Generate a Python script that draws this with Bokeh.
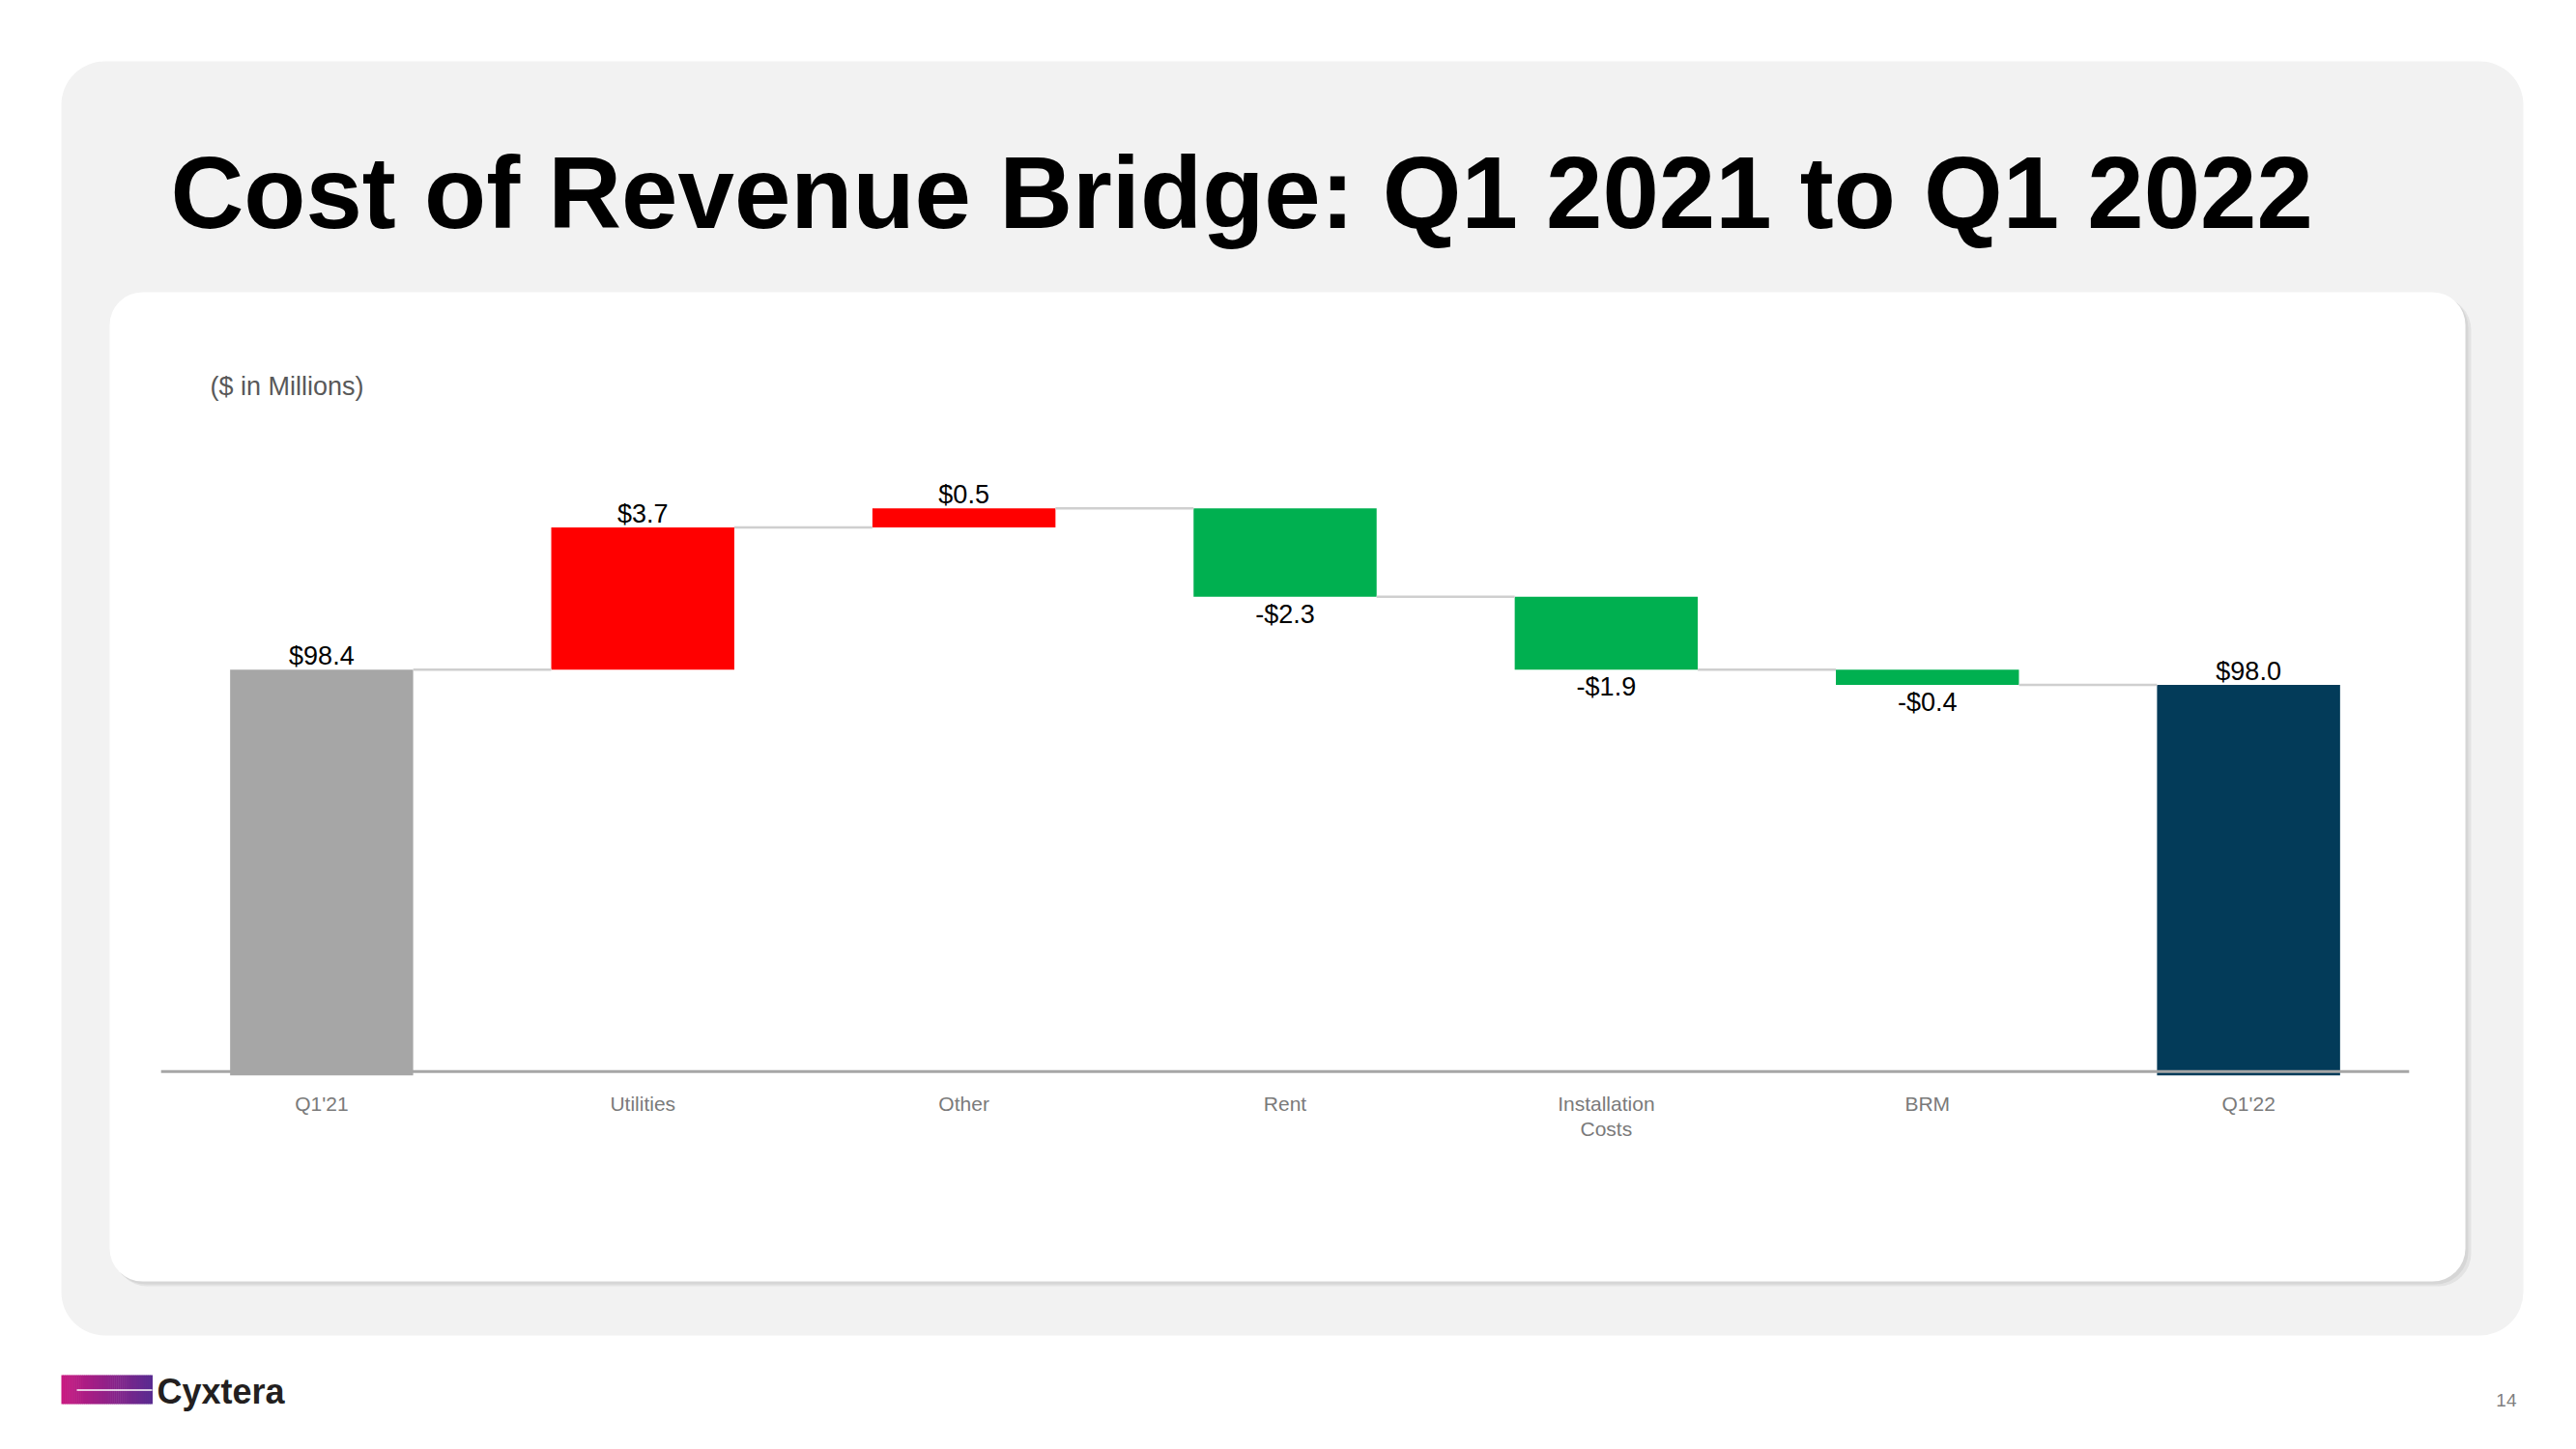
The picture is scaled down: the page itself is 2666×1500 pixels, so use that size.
from bokeh.plotting import figure
from bokeh.models import FactorRange, Range1d, ColumnDataSource
from bokeh.transform import dodge
from bokeh.core.properties import value
from bokeh.embed import file_html
from bokeh.resources import INLINE

# ---------------- data ----------------
categories = ["Q1'21", "Utilities", "Other", "Rent", "Installation Costs", "BRM", "Q1'22"]
start_total = 98.4
changes = [3.7, 0.5, -2.3, -1.9, -0.4]
end_total = 98.0

title_text = "Cost of Revenue Bridge: Q1 2021 to Q1 2022"
unit_note = "($ in Millions)"
brand_text = "Cyxtera"
page_number = "14"

# ---------------- layout / style ----------------
W, H = 2659, 1492
OFF = 0
PX_PER_UNIT = 39.75
Y_HI = 115.826
Y_LO = Y_HI - H / PX_PER_UNIT   # truncated value axis
AXIS_FLOOR = 87.83              # where total bars start
AXIS_LINE = 87.93               # x-axis line level
BAR_W = 0.57
PAD_UNITS = 0.5
FONT = value("Liberation Sans")

C_START = "#A6A6A6"
C_END = "#033B59"
C_UP = "#FF0000"
C_DOWN = "#00B050"

NCAT = len(categories)
SPAN = NCAT + 2 * PAD_UNITS


def gx(px):
    """page pixel x -> synthetic categorical coordinate (slide decoration only)"""
    return (px - OFF) / W * SPAN - PAD_UNITS


def gy(py):
    """page pixel y -> value coordinate (slide decoration only)"""
    return Y_HI - (py - OFF) / H * (Y_HI - Y_LO)


def fmt(v):
    return ("-" if v < 0 else "") + "$" + f"{abs(v):.1f}"


# ---------------- waterfall geometry from data ----------------
ABOVE, BELOW = -14, 18
bottoms, tops, colors, labels, label_y, label_off = [], [], [], [], [], []
bottoms.append(AXIS_FLOOR); tops.append(start_total); colors.append(C_START)
labels.append(fmt(start_total)); label_y.append(start_total); label_off.append(ABOVE)
levels = [start_total]
level = start_total
for c in changes:
    new = level + c
    bottoms.append(min(level, new)); tops.append(max(level, new))
    colors.append(C_UP if c > 0 else C_DOWN)
    labels.append(fmt(c))
    if c > 0:
        label_y.append(max(level, new)); label_off.append(ABOVE)
    else:
        label_y.append(min(level, new)); label_off.append(BELOW)
    level = new
    levels.append(level)
bottoms.append(AXIS_FLOOR); tops.append(end_total); colors.append(C_END)
labels.append(fmt(end_total)); label_y.append(end_total); label_off.append(ABOVE)

bars = ColumnDataSource(dict(cat=categories, bottom=bottoms, top=tops, color=colors,
                             label=labels, ly=label_y, loff=label_off))
conn = ColumnDataSource(dict(x0=categories[:-1], x1=categories[1:], y=levels))

# ---------------- figure ----------------
pad = 2 * PAD_UNITS / NCAT
p = figure(width=W, height=H,
           x_range=FactorRange(*categories, range_padding=pad, range_padding_units="percent"),
           y_range=Range1d(Y_LO, Y_HI),
           output_backend="svg", toolbar_location=None, title_location=None,
           x_axis_location=None, y_axis_location=None, min_border=0,
           background_fill_color="white", border_fill_color="white",
           outline_line_color=None)
p.grid.visible = False

# ---------------- slide decoration ----------------
def box(l, r, t, b, **kw):
    p.quad(left=[gx(l)], right=[gx(r)], top=[gy(t)], bottom=[gy(b)], line_color=None, **kw)

box(63, 2611, 63, 1382, border_radius=45, fill_color="#F2F2F2")
box(118, 2557, 307, 1331, border_radius=34, fill_color="#E3E3E3")
box(116, 2554, 305, 1329, border_radius=34, fill_color="#D6D6D6")
box(113, 2551, 302, 1326, border_radius=34, fill_color="#FFFFFF")

p.text(x=[gx(176)], y=[gy(199)], text=[title_text], text_font=FONT, text_font_style="bold",
       text_font_size="105px", text_color="#000000", text_baseline="alphabetic")
p.text(x=[gx(217)], y=[gy(399)], text=[unit_note], text_font=FONT, text_font_size="27px",
       text_color="#595959", text_baseline="alphabetic")

# logo
n = 48
x0, x1 = 63.0, 157.0
c0 = (0xC8, 0x18, 0x80)
c1 = (0x5A, 0x2B, 0x90)
lefts, rights, cols = [], [], []
for i in range(n):
    t = i / (n - 1)
    lefts.append(gx(x0 + (x1 - x0) * i / n))
    rights.append(gx(x0 + (x1 - x0) * (i + 1) / n + 0.5))
    cols.append("#%02X%02X%02X" % tuple(int(round(a + (b - a) * t)) for a, b in zip(c0, c1)))
p.quad(left=lefts, right=rights, top=[gy(1423)] * n, bottom=[gy(1453)] * n,
       fill_color=cols, line_color=None)
p.segment(x0=[gx(79)], x1=[gx(157)], y0=[gy(1438.5)], y1=[gy(1438.5)], line_color="white",
          line_width=1.5)
p.text(x=[gx(162)], y=[gy(1440)], text=[brand_text], text_font=FONT, text_font_style="bold",
       text_font_size="36px", text_color="#231F20", text_baseline="alphabetic")
p.text(x=[gx(2604)], y=[gy(1449)], text=[page_number], text_font=FONT, text_font_size="19px",
       text_color="#7F7F7F", text_align="right", text_baseline="alphabetic")

# ---------------- chart ----------------
p.vbar(x="cat", top="top", bottom="bottom", width=BAR_W, fill_color="color",
       line_color=None, source=bars)
p.segment(x0=dodge("x0", BAR_W / 2, range=p.x_range), x1=dodge("x1", -BAR_W / 2, range=p.x_range),
          y0="y", y1="y", line_color="#CFCFCF", line_width=2.5, source=conn)
axis_src = ColumnDataSource(dict(a=[categories[0]], b=[categories[-1]], y=[AXIS_LINE]))
p.segment(x0=dodge("a", -0.5, range=p.x_range), x1=dodge("b", 0.5, range=p.x_range),
          y0="y", y1="y", line_color="#A6A6A6", line_width=3, source=axis_src)

p.text(x="cat", y="ly", text="label", y_offset="loff", text_font=FONT,
       text_font_size="27px", text_color="#000000", text_align="center",
       text_baseline="alphabetic", source=bars)

cat_src = ColumnDataSource(dict(cat=categories, txt=[c.replace(" ", "\n") for c in categories],
                                y=[AXIS_LINE] * NCAT))
p.text(x="cat", y="y", text="txt", y_offset=22, text_font=FONT, text_font_size="21px",
       text_color="#7A7A7A", text_align="center", text_baseline="top",
       text_line_height=1.12, source=cat_src)

open("out.html", "w").write(file_html(p, INLINE))
